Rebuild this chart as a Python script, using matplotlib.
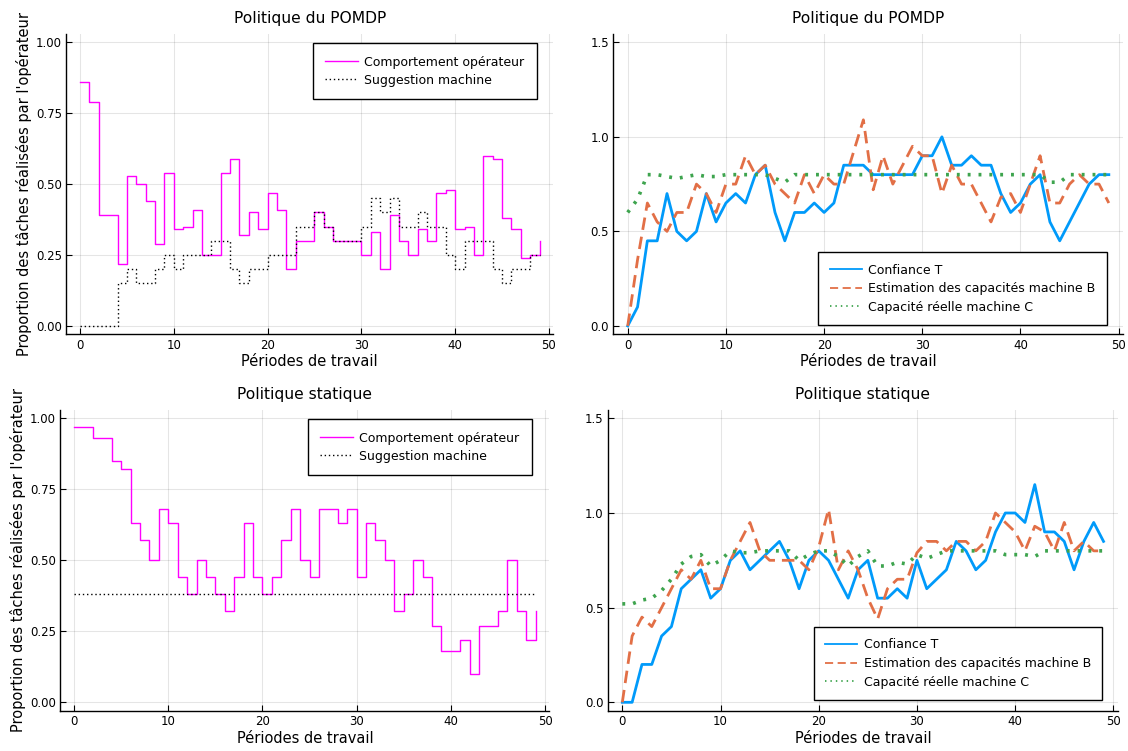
import matplotlib
matplotlib.use("Agg")
import matplotlib.pyplot as plt
import numpy as np

periodes = np.arange(50)

# POMDP - comportement operateur / suggestion machine
pomdp_operateur = [0.86, 0.79, 0.39, 0.39, 0.22, 0.53, 0.50, 0.44, 0.29, 0.54,
                   0.34, 0.35, 0.41, 0.25, 0.25, 0.54, 0.59, 0.32, 0.40, 0.34,
                   0.47, 0.41, 0.20, 0.30, 0.30, 0.40, 0.35, 0.30, 0.30, 0.30,
                   0.25, 0.33, 0.20, 0.39, 0.30, 0.25, 0.34, 0.30, 0.47, 0.48,
                   0.34, 0.35, 0.25, 0.60, 0.59, 0.38, 0.34, 0.24, 0.25, 0.30]
pomdp_suggestion = [0.00, 0.00, 0.00, 0.00, 0.15, 0.20, 0.15, 0.15, 0.20, 0.25,
                    0.20, 0.25, 0.25, 0.25, 0.30, 0.30, 0.20, 0.15, 0.20, 0.20,
                    0.25, 0.25, 0.25, 0.35, 0.35, 0.40, 0.35, 0.30, 0.30, 0.30,
                    0.35, 0.45, 0.40, 0.45, 0.35, 0.35, 0.40, 0.35, 0.35, 0.25,
                    0.20, 0.30, 0.30, 0.30, 0.20, 0.15, 0.20, 0.20, 0.25, 0.25]

# POMDP - confiance / estimation / capacite reelle
pomdp_confiance = [0.00, 0.10, 0.45, 0.45, 0.70, 0.50, 0.45, 0.50, 0.70, 0.55,
                   0.65, 0.70, 0.65, 0.80, 0.85, 0.60, 0.45, 0.60, 0.60, 0.65,
                   0.60, 0.65, 0.85, 0.85, 0.85, 0.80, 0.80, 0.80, 0.80, 0.80,
                   0.90, 0.90, 1.00, 0.85, 0.85, 0.90, 0.85, 0.85, 0.70, 0.60,
                   0.65, 0.75, 0.80, 0.55, 0.45, 0.55, 0.65, 0.75, 0.80, 0.80]
pomdp_estimation = [0.00, 0.35, 0.65, 0.55, 0.50, 0.60, 0.60, 0.75, 0.70, 0.60,
                    0.75, 0.75, 0.90, 0.80, 0.85, 0.75, 0.70, 0.65, 0.80, 0.70,
                    0.80, 0.75, 0.75, 0.92, 1.09, 0.72, 0.90, 0.75, 0.85, 0.95,
                    0.90, 0.90, 0.70, 0.85, 0.75, 0.75, 0.65, 0.55, 0.68, 0.70,
                    0.60, 0.75, 0.90, 0.65, 0.65, 0.75, 0.80, 0.75, 0.75, 0.65]
pomdp_capacite = [0.60, 0.67, 0.80, 0.80, 0.79, 0.78, 0.79, 0.80, 0.79, 0.79,
                  0.80, 0.80, 0.80, 0.80, 0.80, 0.78, 0.76, 0.80, 0.80, 0.80,
                  0.80, 0.80, 0.80, 0.80, 0.80, 0.80, 0.80, 0.80, 0.80, 0.80,
                  0.80, 0.80, 0.80, 0.80, 0.80, 0.80, 0.80, 0.80, 0.80, 0.80,
                  0.80, 0.80, 0.80, 0.76, 0.76, 0.80, 0.80, 0.80, 0.80, 0.80]

# Politique statique
stat_operateur = [0.97, 0.97, 0.93, 0.93, 0.85, 0.82, 0.63, 0.57, 0.50, 0.68,
                  0.63, 0.44, 0.38, 0.50, 0.44, 0.38, 0.32, 0.44, 0.63, 0.44,
                  0.38, 0.44, 0.57, 0.68, 0.50, 0.44, 0.68, 0.68, 0.63, 0.68,
                  0.44, 0.63, 0.57, 0.50, 0.32, 0.38, 0.50, 0.44, 0.27, 0.18,
                  0.18, 0.22, 0.10, 0.27, 0.27, 0.32, 0.50, 0.32, 0.22, 0.32]
stat_suggestion = [0.38] * 50

stat_confiance = [0.00, 0.00, 0.20, 0.20, 0.35, 0.40, 0.60, 0.65, 0.70, 0.55,
                  0.60, 0.75, 0.80, 0.70, 0.75, 0.80, 0.85, 0.75, 0.60, 0.75,
                  0.80, 0.75, 0.65, 0.55, 0.70, 0.75, 0.55, 0.55, 0.60, 0.55,
                  0.75, 0.60, 0.65, 0.70, 0.85, 0.80, 0.70, 0.75, 0.90, 1.00,
                  1.00, 0.95, 1.15, 0.90, 0.90, 0.85, 0.70, 0.85, 0.95, 0.85]
stat_estimation = [0.00, 0.35, 0.45, 0.40, 0.50, 0.60, 0.70, 0.65, 0.75, 0.60,
                   0.60, 0.75, 0.85, 0.95, 0.80, 0.75, 0.75, 0.75, 0.75, 0.70,
                   0.82, 1.02, 0.70, 0.80, 0.70, 0.55, 0.44, 0.60, 0.65, 0.65,
                   0.79, 0.85, 0.85, 0.80, 0.85, 0.85, 0.80, 0.85, 1.00, 0.95,
                   0.90, 0.80, 0.93, 0.90, 0.80, 0.95, 0.80, 0.85, 0.80, 0.80]
stat_capacite = [0.52, 0.52, 0.54, 0.55, 0.59, 0.65, 0.73, 0.77, 0.78, 0.72,
                 0.75, 0.80, 0.79, 0.79, 0.80, 0.80, 0.80, 0.80, 0.75, 0.78,
                 0.80, 0.80, 0.77, 0.72, 0.77, 0.80, 0.72, 0.72, 0.74, 0.73,
                 0.78, 0.76, 0.78, 0.80, 0.80, 0.80, 0.80, 0.80, 0.80, 0.78,
                 0.78, 0.78, 0.77, 0.80, 0.80, 0.80, 0.80, 0.80, 0.80, 0.80]

plt.rcParams['font.family'] = ['DejaVu Sans']
plt.rcParams['axes.linewidth'] = 1.0

fig = plt.figure(figsize=(11.28, 7.51), dpi=100)
ax_tl = fig.add_axes([0.0587, 0.5547, 0.4319, 0.4003])
ax_tr = fig.add_axes([0.5437, 0.5547, 0.4521, 0.4003])
ax_bl = fig.add_axes([0.0534, 0.0535, 0.4337, 0.4008])
ax_br = fig.add_axes([0.5389, 0.0535, 0.4522, 0.4008])

BLEU = '#009AFA'
ORANGE = '#E26F46'
VERT = '#3EA44E'
ylabel = "Proportion des tâches réalisées par l'opérateur"


def style_axes(ax, titre, ymax, yticks, fmt):
    ax.set_xlim(-1.47, 50.47)
    ax.set_ylim(-0.03 * ymax, ymax * 1.03)
    ax.set_xticks([0, 10, 20, 30, 40, 50])
    ax.set_yticks(yticks)
    ax.set_yticklabels([fmt.format(v) for v in yticks])
    ax.grid(True, color='black', alpha=0.1, linewidth=0.8)
    ax.set_axisbelow(True)
    for s in ['top', 'right']:
        ax.spines[s].set_visible(False)
    ax.tick_params(direction='in', length=4, labelsize=8.5, pad=3)
    ax.set_title(titre, fontsize=11.2, pad=8)
    ax.set_xlabel('Périodes de travail', fontsize=10.5, labelpad=2)


def panneau_operateur(ax, titre, operateur, suggestion, leg_anchor):
    ax.step(periodes, operateur, where='post', color='#FF00FF', linewidth=1.0,
            label='Comportement opérateur')
    ax.step(periodes, suggestion, where='post', color='black', linewidth=1.0,
            linestyle=(0, (1, 2)), label='Suggestion machine')
    style_axes(ax, titre, 1.0, [0, 0.25, 0.5, 0.75, 1.0], '{:.2f}')
    ax.set_ylabel(ylabel, fontsize=10.5, labelpad=3)
    ax.legend(loc='upper right', bbox_to_anchor=leg_anchor, borderaxespad=0,
              fontsize=9, frameon=True, fancybox=False, edgecolor='black',
              framealpha=1, handlelength=2.6, handletextpad=0.5,
              borderpad=1.0, labelspacing=0.4)


def panneau_confiance(ax, titre, confiance, estimation, capacite, leg_anchor):
    ax.plot(periodes, confiance, color=BLEU, linewidth=2.0, label='Confiance T')
    ax.plot(periodes, estimation, color=ORANGE, linewidth=2.0,
            linestyle=(0, (4.5, 2.5)), label='Estimation des capacités machine B')
    ax.plot(periodes, capacite, color=VERT, linewidth=2.6,
            linestyle=(0, (0.8, 2.2)), label='Capacité réelle machine C')
    style_axes(ax, titre, 1.5, [0, 0.5, 1.0, 1.5], '{:.1f}')
    leg = ax.legend(loc='lower right', bbox_to_anchor=leg_anchor, borderaxespad=0,
                    fontsize=9, frameon=True, fancybox=False, edgecolor='black',
                    framealpha=1, handlelength=2.6, handletextpad=0.5,
                    borderpad=0.9, labelspacing=0.45)
    for ligne in leg.get_lines():
        ligne.set_linewidth(1.3)


panneau_operateur(ax_tl, 'Politique du POMDP', pomdp_operateur, pomdp_suggestion,
                  (0.966, 0.969))
panneau_confiance(ax_tr, 'Politique du POMDP', pomdp_confiance, pomdp_estimation,
                  pomdp_capacite, (0.968, 0.031))
panneau_operateur(ax_bl, 'Politique statique', stat_operateur, stat_suggestion,
                  (0.964, 0.969))
panneau_confiance(ax_br, 'Politique statique', stat_confiance, stat_estimation,
                  stat_capacite, (0.969, 0.036))

fig.savefig('out.png', dpi=100)
